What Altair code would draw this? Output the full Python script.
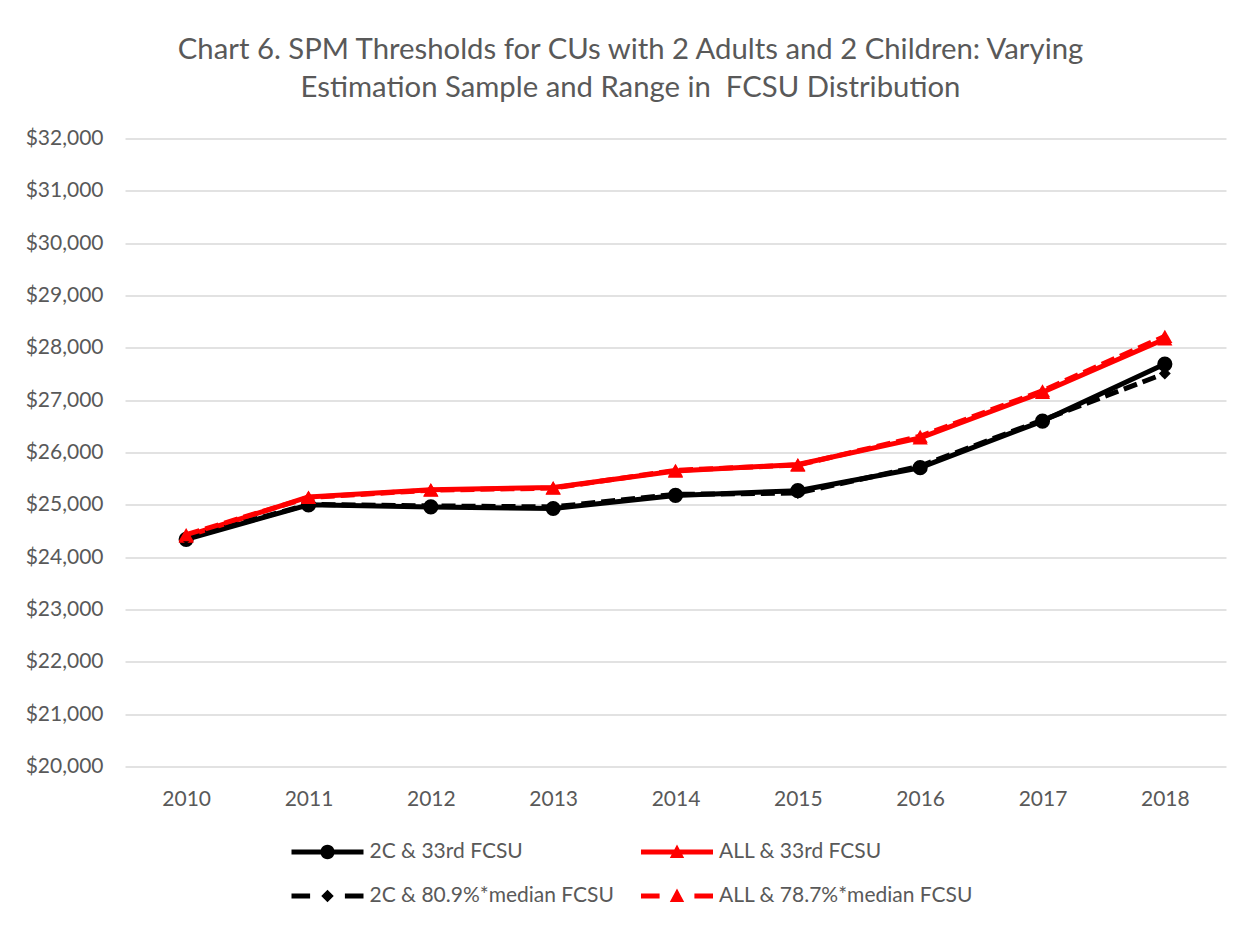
import math
import altair as alt
import pandas as pd

# ---- data ----
years = ["2010", "2011", "2012", "2013", "2014", "2015", "2016", "2017", "2018"]
series_names = [
    "2C & 33rd FCSU",
    "ALL & 33rd FCSU",
    "2C & 80.9%*median FCSU",
    "ALL & 78.7%*median FCSU",
]
vals_2c_33 = [24340, 25000, 24960, 24930, 25180, 25270, 25710, 26600, 27690]
vals_all_33 = [24400, 25150, 25290, 25330, 25645, 25770, 26280, 27150, 28170]
vals_2c_med = [24360, 25010, 24980, 24960, 25200, 25225, 25740, 26620, 27510]
vals_all_med = [24430, 25140, 25280, 25320, 25660, 25760, 26310, 27180, 28220]
y_ticks = list(range(20000, 32001, 1000))

title_lines = [
    "Chart 6. SPM Thresholds for CUs with 2 Adults and 2 Children: Varying",
    "Estimation Sample and Range in \u00a0FCSU Distribution",
]

# ---- styles ----
colors = ["#000000", "#FF0000", "#000000", "#FF0000"]
marker_shapes = ["circle", "triangle-up", "diamond", "triangle-up"]
marker_sizes = [230, 230, 140, 230]
dashes = [None, None, [14, 6], [14, 6]]
TXT = "#595959"
FONT = "Lato"

all_vals = [vals_2c_33, vals_all_33, vals_2c_med, vals_all_med]
rows = []
for name, vals in zip(series_names, all_vals):
    for y, v in zip(years, vals):
        rows.append({"year": y, "series": name, "value": v})
df = pd.DataFrame(rows)


# legend symbols: line + marker as custom paths (unit = sqrt(size)/2)
def poly(pts):
    return "M" + "L".join(f"{x:.3f},{y:.3f}" for x, y in pts) + "Z"


def circle_path(r, n=28):
    return poly([(r * math.cos(2 * math.pi * k / n), r * math.sin(2 * math.pi * k / n)) for k in range(n)])


def rect(x0, x1, h=0.2):
    return poly([(x0, -h), (x1, -h), (x1, h), (x0, h)])


tri = poly([(0, -0.62), (0.6, 0.5), (-0.6, 0.5)])
dia = poly([(0, -0.52), (0.52, 0), (0, 0.52), (-0.52, 0)])
solid = rect(-3, 3)
dashed = rect(-3, -1.45) + rect(1.45, 3)
legend_paths = [
    solid + circle_path(0.6),
    solid + tri,
    dashed + dia,
    dashed + tri,
]

color_scale = alt.Scale(domain=series_names, range=colors)

x_enc = alt.X(
    "year:O",
    sort=years,
    scale=alt.Scale(type="point", padding=0.5),
    axis=alt.Axis(
        title=None, labelAngle=0, ticks=False, domain=False, grid=False,
        labelPadding=22, labelFontSize=21, labelColor=TXT, labelFont=FONT,
    ),
)
y_enc = alt.Y(
    "value:Q",
    scale=alt.Scale(domain=[20000, 32000], nice=False, zero=False),
    axis=alt.Axis(
        title=None, values=y_ticks, format="$,.0f", ticks=False, domain=False,
        grid=True, gridColor="#D9D9D9", gridWidth=1.5,
        labelPadding=22, labelFontSize=21, labelColor=TXT, labelFont=FONT,
    ),
)

layers = []
for i, name in enumerate(series_names):
    base = alt.Chart(df).transform_filter(alt.datum.series == name)
    line_kwargs = dict(strokeWidth=5, strokeJoin="round", color=colors[i])
    if dashes[i]:
        line_kwargs["strokeDash"] = dashes[i]
    line = base.mark_line(**line_kwargs).encode(x=x_enc, y=y_enc)
    pts = base.mark_point(
        shape=marker_shapes[i], filled=True, size=marker_sizes[i], opacity=1,
        strokeWidth=0, color=colors[i],
    ).encode(x=x_enc, y=y_enc)
    layers += [line, pts]

legend = alt.Legend(
    title=None, orient="none", legendX=166.5, legendY=701.5, columns=2,
    direction="horizontal",
    symbolSize=576, symbolOffset=24, labelOffset=30, symbolStrokeWidth=0,
    labelFontSize=21, labelColor=TXT, labelFont=FONT, labelLimit=500,
    rowPadding=22, columnPadding=26.5, padding=0,
)
legend_layer = alt.Chart(df).transform_filter("false").mark_point(
    filled=True, opacity=1, size=576, strokeWidth=0
).encode(
    x=x_enc, y=y_enc,
    color=alt.Color("series:N", scale=color_scale, legend=legend),
    shape=alt.Shape("series:N", scale=alt.Scale(domain=series_names, range=legend_paths), legend=legend),
)
layers.append(legend_layer)

chart = alt.layer(*layers).properties(
    width=1101,
    height=628,
    padding={"left": 117, "top": 130.5, "right": 19, "bottom": 152.5},
    autosize=alt.AutoSizeParams(type="none"),
    background="white",
    title=alt.TitleParams(
        text=title_lines, font=FONT, fontSize=29.3, fontWeight="normal", color=TXT,
        anchor="middle", dx=-45, offset=24, lineHeight=38,
    ),
).configure_view(stroke=None)

chart.save("out.html", embed_options={"renderer": "svg", "actions": False})
